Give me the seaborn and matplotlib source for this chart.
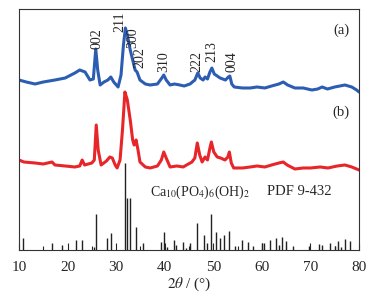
import matplotlib
matplotlib.use("Agg")
import matplotlib.pyplot as plt
from matplotlib.ticker import MultipleLocator
import seaborn as sns
import numpy as np

# curve (a), blue sample
a_x = [10, 11.5, 13.3, 15, 17.4, 19.5, 21.5, 22.5, 23.6, 24.6, 25.3, 25.8, 26.2, 26.7,
       27.5, 28.3, 28.9, 29.5, 30.4, 31.0, 31.5, 31.9, 32.3, 32.9, 33.5, 33.9, 34.3, 34.9,
       36, 37, 38.5, 39.4, 39.8, 40.3, 41.1, 42, 43.1, 44, 45.2, 46.2, 46.8, 47.3, 47.9,
       48.3, 48.8, 49.3, 49.7, 50.2, 51.4, 52.5, 53.1, 53.4, 53.8, 54.3, 56, 57.6, 59,
       60.6, 62, 63.5, 64.4, 65.3, 66.8, 68.5, 70.3, 71.5, 72.4, 73.5, 75, 77.1, 78.5,
       79.5, 80]
a_y = [170, 168, 166, 168, 170, 172, 177, 180, 178, 170, 171, 201, 180, 165,
       168, 170, 173, 168, 163, 175, 205, 222, 215, 200, 188, 180, 178, 170,
       166, 165, 166, 172, 175, 170, 165, 166, 165, 164, 166, 170, 177, 172, 170,
       173, 171, 178, 182, 176, 172, 170, 173, 174, 166, 163, 162, 162, 163,
       162, 164, 166, 168, 165, 162, 162, 160, 161, 163, 161, 163, 165, 163,
       160, 158]

# curve (b), red sample
b_x = [10, 11, 13.3, 15, 16.8, 17.4, 19.5, 21.5, 22.5, 23, 23.5, 25, 25.5, 25.9, 26.3,
       26.9, 28, 28.7, 29.2, 29.8, 30.2, 30.8, 31.3, 31.8, 32.3, 32.9, 33.4, 33.7, 34.1,
       34.5, 34.9, 36, 37, 38.5, 39.3, 39.8, 40.3, 41.1, 42.5, 43.8, 44.5, 45.6, 46.2,
       46.7, 47.2, 47.7, 48.3, 48.8, 49.3, 49.6, 50.1, 50.8, 51.5, 52.4, 53.0, 53.3,
       53.7, 54.2, 56, 57.6, 59, 60.6, 62, 63.5, 64.4, 65.2, 66.8, 68.5, 70, 72, 73.6,
       75.5, 77.1, 78.5, 80]
b_y = [90, 88, 87, 86, 88, 85, 84, 83, 84, 90, 85, 87, 90, 125, 100,
       85, 89, 93, 92, 85, 82, 90, 120, 158, 150, 130, 110, 105, 110,
       100, 88, 83, 82, 84, 90, 98, 92, 83, 84, 83, 85, 88, 92,
       107, 95, 88, 93, 90, 102, 108, 98, 93, 92, 90, 93, 98,
       87, 82, 82, 83, 84, 83, 85, 87, 88, 85, 81, 82, 82, 83, 82,
       84, 85, 83, 80]

# PDF 9-432 reference lines
pdf_pos = [10.8, 16.8, 18.8, 21.8, 22.9, 25.4, 25.9, 28.1, 28.9, 31.8, 32.2, 32.9, 34.0,
           35.5, 39.2, 39.8, 40.5, 42.0, 42.3, 43.8, 44.4, 45.3, 46.7, 48.1, 48.6, 49.5,
           50.5, 51.3, 52.1, 53.2, 54.4, 55.9, 57.1, 58.1, 60.0, 60.5, 61.7, 63.0, 63.5,
           64.1, 65.0, 66.4, 69.7, 71.7, 72.3, 74.1, 75.0, 75.6, 76.2, 77.2, 78.2]
pdf_int = [12, 7, 5, 10, 10, 3, 36, 12, 17, 87, 52, 52, 23,
           7, 8, 18, 3, 10, 5, 8, 2, 7, 27, 15, 7, 36,
           18, 12, 15, 19, 4, 10, 8, 4, 7, 7, 10, 12, 5,
           13, 9, 4, 4, 6, 5, 7, 4, 9, 3, 11, 9]

hkl_labels = ["002", "211", "300", "202", "310", "222", "213", "004"]
hkl_x = [26.06, 30.8, 33.5, 34.8, 39.85, 46.6, 49.7, 53.8]
hkl_y = [201, 218, 202, 182, 178, 178, 188, 178]

sns.set_style("white")
plt.rcParams["font.family"] = ["Liberation Serif", "DejaVu Serif"]
plt.rcParams["mathtext.fontset"] = "stix"

fig = plt.figure(figsize=(3.84, 3.0), dpi=100)
ax = fig.add_axes([0.0495, 0.1667, 0.8855, 0.8033])

sns.lineplot(x=a_x, y=a_y, ax=ax, color="#2d5db2", lw=2.2, sort=False, estimator=None)
sns.lineplot(x=b_x, y=b_y, ax=ax, color="#e8262a", lw=2.2, sort=False, estimator=None)
ax.vlines(pdf_pos, 0, pdf_int, color="#222222", lw=1.0)

for lab, x, y in zip(hkl_labels, hkl_x, hkl_y):
    ax.text(x, y, lab, rotation=90, ha="center", va="bottom", fontsize=10)

ax.text(76.3, 220, "(a)", ha="center", va="center", fontsize=10.5)
ax.text(76.3, 138, "(b)", ha="center", va="center", fontsize=10.5)
ax.text(37.0, 58, "Ca$_{10}$(PO$_4$)$_6$(OH)$_2$", ha="left", va="center", fontsize=10)
ax.text(61.0, 58, "PDF 9-432", ha="left", va="center", fontsize=10.5)

ax.set_xlim(10, 80)
ax.set_ylim(0, 241)
ax.xaxis.set_major_locator(MultipleLocator(10))
ax.xaxis.set_minor_locator(MultipleLocator(5))
ax.tick_params(axis="x", which="major", direction="in", length=5, width=0.8,
               labelsize=11, top=False, bottom=True, pad=8)
ax.tick_params(axis="x", which="minor", direction="in", length=3, width=0.8, bottom=True)
ax.set_yticks([])
ax.set_xlabel("$2\\theta$ / (°)", fontsize=11, labelpad=1)
for s in ax.spines.values():
    s.set_color("#333333")
    s.set_linewidth(0.8)

fig.savefig("out.png", dpi=100)
